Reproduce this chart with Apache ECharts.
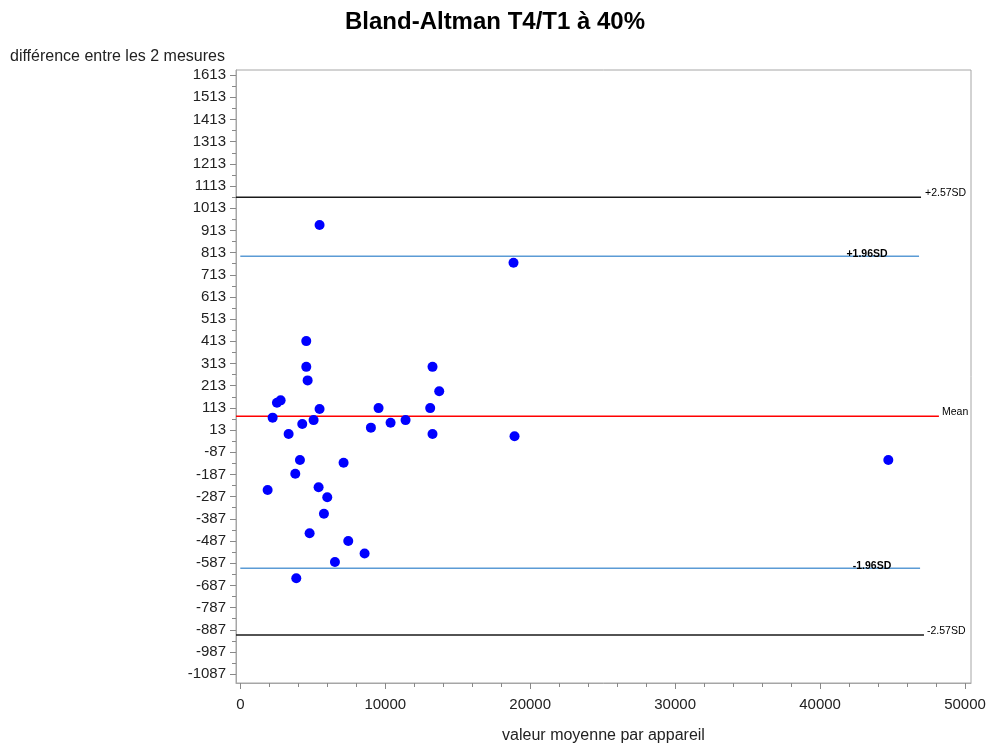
<!DOCTYPE html>
<html><head><meta charset="utf-8">
<script src="https://cdn.jsdelivr.net/npm/echarts@6/dist/echarts.min.js"></script>
<style>html,body{margin:0;padding:0;background:#fff}#c{width:990px;height:746px}</style>
</head><body><div id="c"></div>
<script>
// ---- data ----
const meanValues = [5469, 18850, 4552, 4552, 4645, 13262, 13724, 2529, 2782, 5469,
  9538, 13103, 2230, 4276, 5057, 10368, 11403, 9011, 3333, 13262,
  18920, 4115, 7126, 3793, 1885, 5402, 6000, 5770, 4782, 7448,
  8575, 6529, 3862, 44710];
const diffValues = [937, 767, 414, 298, 237, 298, 188, 136, 147, 108,
  112, 112, 69, 40, 58, 46, 58, 24, -5, -5,
  -15, -122, -134, -184, -257, -245, -290, -364, -452, -487,
  -543, -582, -655, -122];
const yTickLabels = [1613, 1513, 1413, 1313, 1213, 1113, 1013, 913, 813, 713, 613, 513, 413, 313, 213, 113, 13,
  -87, -187, -287, -387, -487, -587, -687, -787, -887, -987, -1087];
const xTickLabels = [0, 10000, 20000, 30000, 40000, 50000];
const refNames = ['+2.57SD', '+1.96SD', 'Mean', '-1.96SD', '-2.57SD'];
const refValues = [1062, 796, 75, -610, -911];

// ---- styling / layout ----
const X_MIN = -297, X_MAX = 50414, Y_MIN = -1127, Y_MAX = 1636;
const refStyle = [
  {color: '#1a1a1a', x0: X_MIN, x1: 46966, lx: 47241, bold: false, align: 'left', dy: -4},
  {color: '#5b9bd5', x0: 0, x1: 46830, lx: 43241, bold: true, align: 'center', dy: -2},
  {color: '#ff0000', x0: X_MIN, x1: 48200, lx: 48414, bold: false, align: 'left', dy: -4},
  {color: '#5b9bd5', x0: 0, x1: 46900, lx: 43586, bold: true, align: 'center', dy: -2},
  {color: '#1a1a1a', x0: X_MIN, x1: 47170, lx: 47379, bold: false, align: 'left', dy: -4}
];
const FONT = "'Liberation Sans', Arial, sans-serif";
const yMinor = yTickLabels.map(v => v + 50).filter(v => v < Y_MAX);
const xMinor = [];
for (let v = 2000; v < 50000; v += 2000) if (v % 10000) xMinor.push(v);
const plain = v => String(v);

const chart = echarts.init(document.getElementById('c'));
const series = [{
  type: 'scatter',
  data: meanValues.map((x, i) => [x, diffValues[i]]),
  symbolSize: 10,
  itemStyle: {color: '#0000ff', opacity: 1},
  z: 5
}];
refValues.forEach((v, i) => {
  const s = refStyle[i];
  series.push({
    type: 'line',
    data: [[s.x0, v], [s.x1, v]],
    symbol: 'none',
    lineStyle: {color: s.color, width: 1.5},
    silent: true,
    z: 3,
    markPoint: {
      symbol: 'rect', symbolSize: 1,
      itemStyle: {color: 'rgba(0,0,0,0)'},
      data: [{coord: [s.lx, v], name: refNames[i]}],
      label: {
        show: true, position: 'inside', formatter: refNames[i],
        align: s.align, verticalAlign: 'middle', offset: [0, s.dy],
        fontFamily: FONT, fontSize: 10.5, fontWeight: s.bold ? 'bold' : 'normal', color: '#000'
      }
    }
  });
});

chart.setOption({
  animation: false,
  backgroundColor: '#fff',
  textStyle: {fontFamily: FONT},
  title: [
    {text: 'Bland-Altman T4/T1 à 40%', left: 'center', top: 5,
      textStyle: {fontFamily: FONT, fontSize: 24, fontWeight: 'bold', color: '#000'}},
    {text: 'différence entre les 2 mesures', left: 10, top: 49, padding: 0,
      textStyle: {fontFamily: FONT, fontSize: 16, fontWeight: 'normal', color: '#222'}}
  ],
  grid: {left: 236, top: 70, right: 19, bottom: 63, show: true, borderColor: '#a6a6a6', borderWidth: 1,
    containLabel: false, outerBoundsMode: 'none'},
  xAxis: [{
    type: 'value', min: X_MIN, max: X_MAX,
    name: 'valeur moyenne par appareil', nameLocation: 'middle', nameGap: 45,
    nameTextStyle: {fontFamily: FONT, fontSize: 16, color: '#222'},
    axisLine: {show: true, onZero: false, lineStyle: {color: '#a6a6a6'}},
    axisTick: {show: true, inside: false, length: 6, customValues: xTickLabels, lineStyle: {color: '#888'}},
    axisLabel: {customValues: xTickLabels, formatter: plain, fontFamily: FONT, fontSize: 15, color: '#222', margin: 14},
    splitLine: {show: false}
  }, {
    type: 'value', min: X_MIN, max: X_MAX, position: 'bottom', offset: 0,
    axisLine: {show: false, onZero: false},
    axisTick: {show: true, inside: false, length: 4, customValues: xMinor, lineStyle: {color: '#888'}},
    axisLabel: {show: false, customValues: xMinor},
    splitLine: {show: false}
  }],
  yAxis: [{
    type: 'value', min: Y_MIN, max: Y_MAX,
    axisLine: {show: true, onZero: false, lineStyle: {color: '#a6a6a6'}},
    axisTick: {show: true, inside: false, length: 6, customValues: yTickLabels, lineStyle: {color: '#888'}},
    axisLabel: {customValues: yTickLabels, formatter: plain, fontFamily: FONT, fontSize: 15, color: '#222', margin: 10},
    splitLine: {show: false}
  }, {
    type: 'value', min: Y_MIN, max: Y_MAX, position: 'left', offset: 0,
    axisLine: {show: false, onZero: false},
    axisTick: {show: true, inside: false, length: 4, customValues: yMinor, lineStyle: {color: '#888'}},
    axisLabel: {show: false, customValues: yMinor},
    splitLine: {show: false}
  }],
  series: series
});
</script>
</body></html>
